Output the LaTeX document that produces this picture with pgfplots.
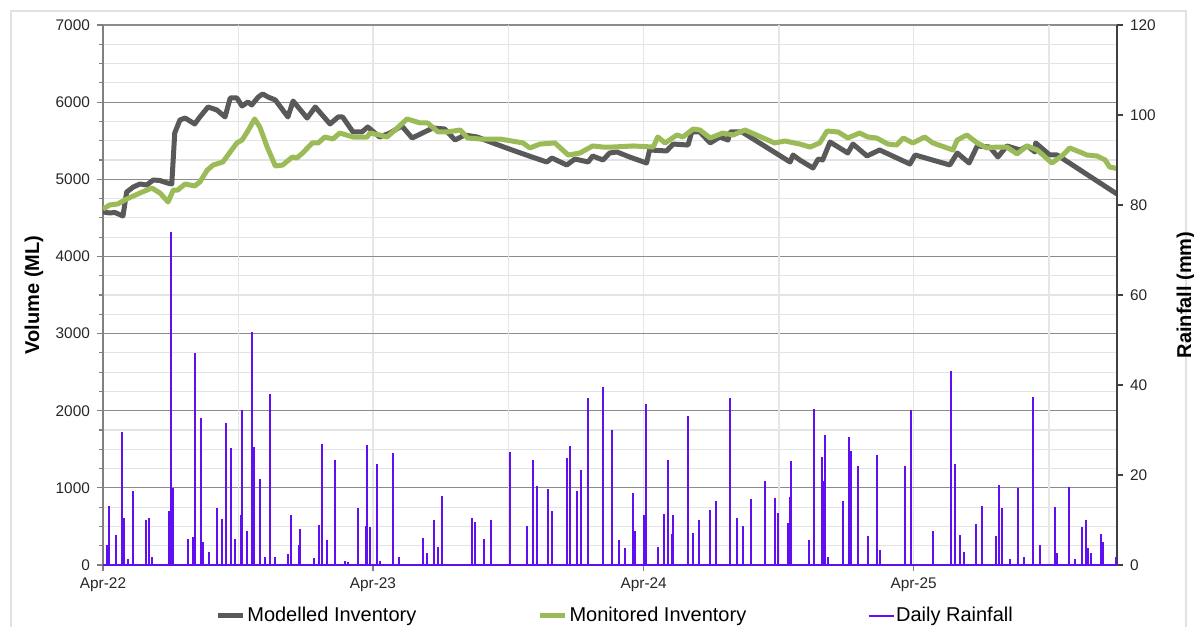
\documentclass[border=0pt]{standalone}
\usepackage{pgfplots}
\pgfplotsset{compat=1.18}
\usepackage{pgfplotstable}
\usepackage{fontspec}
\setmainfont{Liberation Sans}

\definecolor{modgray}{HTML}{595959}
\definecolor{mongreen}{HTML}{9BBB59}
\definecolor{rain}{HTML}{6010F0}
\definecolor{majgrid}{HTML}{8C8C8C}
\definecolor{mingrid}{HTML}{E3E3E3}
\definecolor{vgrid}{HTML}{E6E6E6}
\definecolor{axisgray}{HTML}{808080}
\definecolor{framegray}{HTML}{E2E2E2}

% days since 1 Apr 2022
\pgfplotstableread{
day ml
0 4576
9 4563
16 4570
27 4524
32 4835
41 4900
50 4939
59 4926
68 4991
77 4984
87 4952
93 4939
97 5600
104 5769
111 5794
124 5717
131 5808
142 5937
154 5898
165 5808
172 6054
181 6054
188 5950
196 6002
201 5963
210 6067
216 6106
223 6067
233 6028
250 5808
257 6015
276 5794
287 5937
307 5717
318 5808
324 5808
338 5613
350 5613
358 5678
374 5548
388 5600
404 5691
418 5535
446 5665
462 5652
476 5509
489 5574
506 5548
527 5471
553 5380
580 5289
600 5224
607 5276
627 5185
638 5263
656 5224
662 5302
676 5250
685 5341
695 5354
712 5289
735 5211
739 5380
762 5367
771 5457
791 5444
796 5613
807 5613
821 5471
834 5548
845 5509
848 5613
864 5613
929 5224
933 5315
942 5250
960 5146
967 5263
973 5250
983 5483
1007 5341
1014 5457
1033 5302
1050 5380
1091 5198
1098 5315
1145 5185
1155 5341
1171 5211
1182 5432
1199 5418
1210 5289
1222 5432
1240 5380
1250 5432
1260 5354
1261 5471
1280 5315
1290 5315
1371 4809
}\modelled

\pgfplotstableread{
day ml
0 4615
9 4667
20 4680
32 4744
50 4822
66 4887
77 4822
88 4706
95 4861
101 4861
111 4939
124 4913
131 4965
141 5120
149 5185
162 5224
172 5354
181 5471
188 5509
195 5613
205 5782
212 5678
222 5418
233 5172
243 5185
256 5289
262 5276
270 5341
283 5471
291 5471
300 5548
311 5522
320 5600
338 5548
357 5548
361 5600
374 5574
384 5548
395 5639
411 5782
429 5730
439 5730
453 5613
465 5613
483 5639
493 5535
510 5522
537 5522
568 5471
577 5406
591 5457
611 5471
629 5315
645 5341
662 5432
676 5418
689 5418
717 5432
744 5418
750 5548
760 5471
776 5574
784 5548
798 5652
807 5639
821 5535
838 5600
852 5574
868 5639
908 5471
922 5496
942 5457
956 5418
969 5471
979 5626
994 5613
1007 5535
1023 5600
1034 5548
1046 5535
1061 5457
1073 5444
1082 5535
1095 5471
1111 5548
1122 5471
1149 5380
1155 5509
1168 5574
1182 5471
1195 5406
1209 5418
1222 5418
1236 5328
1249 5432
1263 5380
1283 5211
1298 5315
1307 5406
1324 5341
1330 5315
1344 5302
1355 5250
1361 5159
1371 5140
}\monitored

\pgfplotstableread{
day mm
5 4.5
8 13.0
18 6.7
26 29.5
28 10.5
34 1.4
41 16.5
58 10.1
62 10.5
66 1.7
89 12.0
92 73.9
95 17.1
115 5.8
122 6.2
124 47.1
132 32.7
135 5.1
143 2.9
154 12.7
161 10.3
166 31.5
173 26.1
178 5.7
187 11.1
188 34.5
195 7.5
201 51.8
204 26.2
212 19.0
219 1.7
226 38.1
233 1.7
250 2.5
254 11.1
265 4.5
266 7.9
285 1.6
292 8.9
296 26.8
303 5.6
314 23.4
327 0.9
331 0.7
345 12.7
356 8.6
357 26.6
361 8.4
370 22.5
374 1.0
392 24.9
400 1.7
433 6.1
438 2.7
447 10.1
453 3.9
458 15.3
499 10.4
503 9.5
515 5.8
525 9.9
550 25.2
573 8.7
581 23.3
587 17.5
602 16.8
607 12.1
627 23.7
631 26.5
641 16.5
646 21.2
656 37.1
676 39.5
688 30.0
698 5.5
706 3.7
717 15.9
719 7.6
731 11.0
734 35.7
750 4.1
758 11.3
764 23.3
769 7.0
771 11.1
791 33.0
798 7.2
806 9.9
821 12.2
829 14.3
848 37.1
857 10.5
865 8.6
876 14.7
895 18.6
908 14.9
913 11.6
926 9.3
929 15.1
930 23.1
954 5.6
961 34.6
972 24.0
973 18.6
976 28.8
980 1.7
1000 14.3
1009 28.5
1011 25.4
1021 22.1
1034 6.5
1046 24.4
1050 3.4
1084 22.1
1092 34.5
1122 7.5
1146 43.2
1152 22.5
1159 6.7
1164 2.9
1180 9.1
1188 13.2
1207 6.5
1211 17.7
1215 12.7
1226 1.4
1237 17.0
1245 1.7
1257 37.4
1267 4.5
1287 12.9
1290 2.6
1306 17.3
1314 1.4
1324 8.4
1329 9.9
1332 3.7
1336 2.6
1349 6.9
1352 5.1
1370 1.7
}\rainfall

\begin{document}
\begin{tikzpicture}
\path[use as bounding box] (-51.5pt,-31pt) rectangle (545.5pt,282.5pt);
\draw[framegray, line width=0.6pt] (-46pt,-31pt) -- (-46pt,277pt) -- (541.5pt,277pt) -- (541.5pt,-31pt);

\begin{axis}[
    at={(0,0)}, anchor=south west,
    width=507pt, height=270pt, scale only axis,
    xmin=0, xmax=1371, ymin=0, ymax=7000,
    axis x line*=bottom, axis y line*=left,
    axis line style={draw=axisgray, line width=0.6pt},
    xtick={0,365,731,1096},
    xticklabels={Apr-22,Apr-23,Apr-24,Apr-25},
    extra x ticks={183,548,914,1279},
    extra x tick labels={},
    extra x tick style={major tick length=0pt},
    ytick={0,1000,...,7000},
    minor y tick num=3,
    tick align=outside,
    major tick length=3pt, minor tick length=2pt,
    tick style={draw=axisgray, line width=0.6pt},
    xmajorgrids, ymajorgrids, yminorgrids,
    major x grid style={vgrid, line width=0.6pt},
    major y grid style={majgrid, line width=0.6pt},
    minor y grid style={mingrid, line width=0.6pt},
    ticklabel style={font=\fontsize{7.7}{9}\selectfont, text=black!85},
    /pgf/number format/assume math mode=true,
    /pgf/number format/1000 sep={},
    ylabel={Volume (ML)},
    every axis y label/.style={at={(axis description cs:-0.068,0.5)}, anchor=center, rotate=90,
        font=\fontsize{10}{12}\selectfont\bfseries},
    legend columns=3,
    legend style={at={(axis description cs:0.505,-0.094)}, anchor=center,
        draw=none, fill=none, font=\fontsize{10}{12}\selectfont,
        nodes={inner sep=0.8pt},
        /tikz/every even column/.append style={column sep=60pt}},
    legend image code/.code={\draw[#1] (0pt,0pt) -- (12.5pt,0pt);},
]
\addplot[modgray, line width=2.5pt, line join=round, mark=none] table[x=day, y=ml] {\modelled};
\addlegendentry{Modelled Inventory}
\addplot[mongreen, line width=2.5pt, line join=round, mark=none] table[x=day, y=ml] {\monitored};
\addlegendentry{Monitored Inventory}
\addlegendimage{rain, line width=0.8pt}
\addlegendentry{Daily Rainfall}
\end{axis}

\begin{axis}[
    at={(0,0)}, anchor=south west,
    width=507pt, height=270pt, scale only axis,
    xmin=0, xmax=1371, ymin=0, ymax=120,
    axis x line=none, axis y line*=right,
    axis line style={draw=black!75, line width=0.6pt},
    ytick={0,20,...,120},
    tick align=outside, major tick length=3pt,
    tick style={draw=black!75, line width=0.6pt},
    ticklabel style={font=\fontsize{7.7}{9}\selectfont, text=black!85},
    /pgf/number format/assume math mode=true,
    ylabel={Rainfall (mm)},
    every axis y label/.style={at={(axis description cs:1.068,0.5)}, anchor=center, rotate=90,
        font=\fontsize{10}{12}\selectfont\bfseries},
]
\addplot[rain, line width=0.9pt, mark=none] coordinates {(0,0) (1371,0)};
\addplot[ycomb, rain, line width=1pt, mark=none] table[x=day, y=mm] {\rainfall};
\end{axis}
\end{tikzpicture}
\end{document}
